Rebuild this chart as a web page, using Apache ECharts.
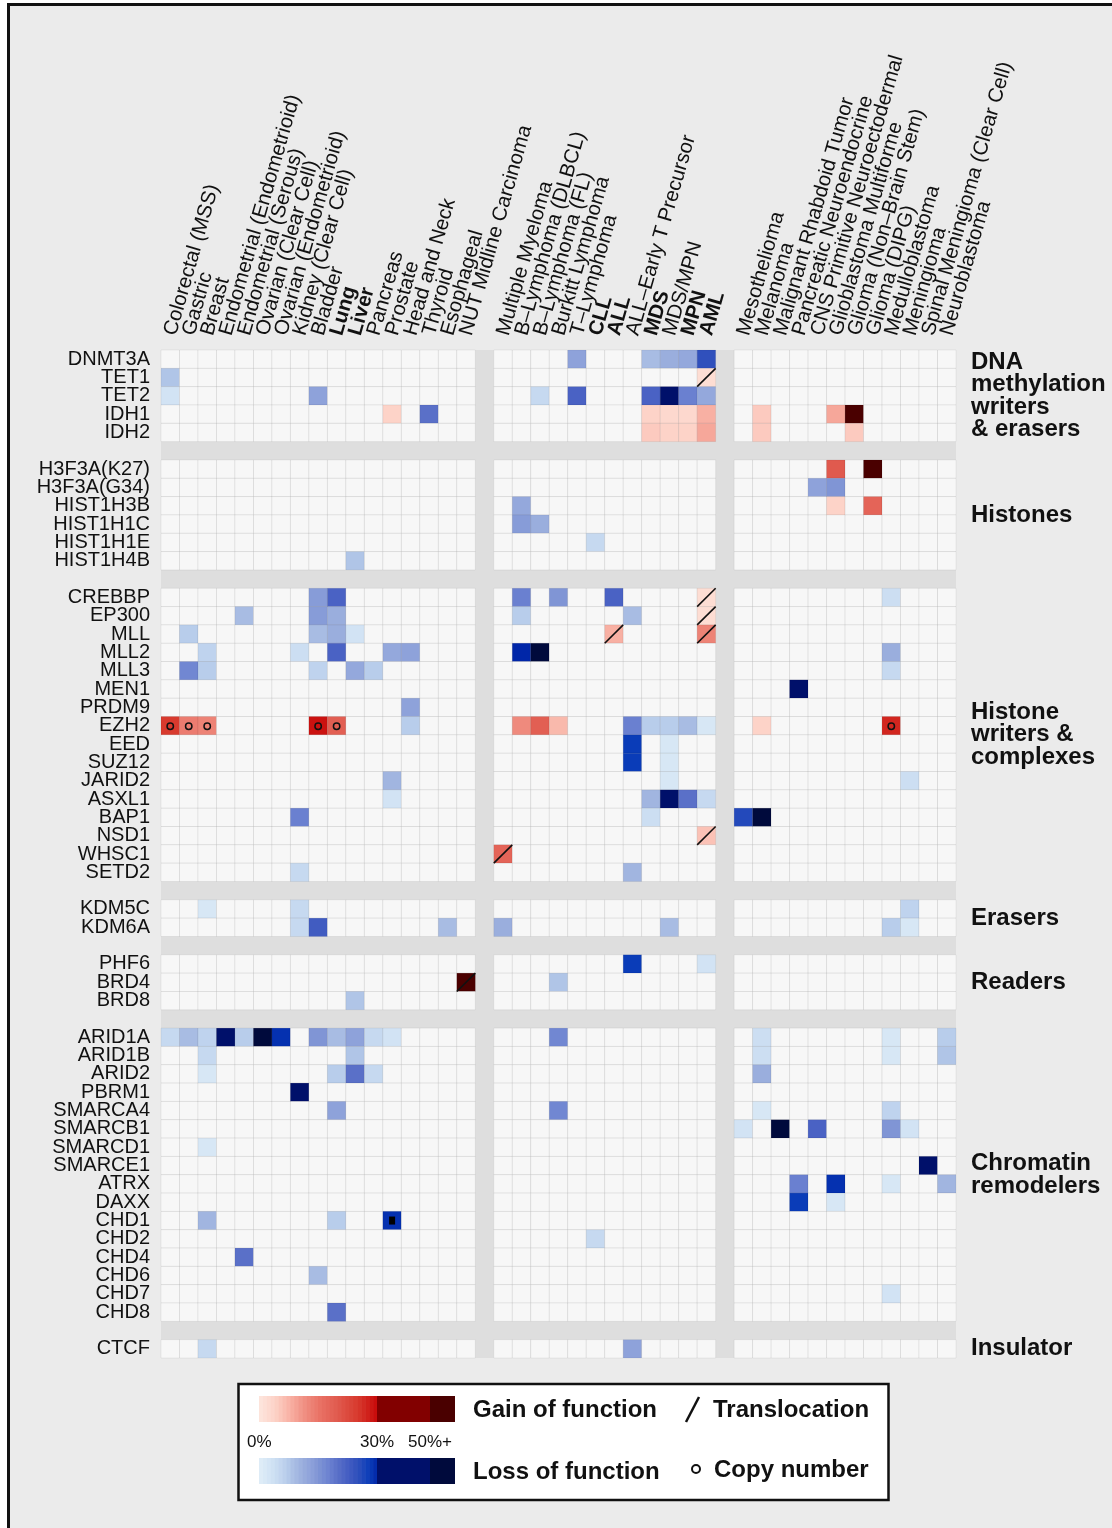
<!DOCTYPE html>
<html><head><meta charset="utf-8">
<script src="https://cdn.jsdelivr.net/npm/echarts@6/dist/echarts.min.js"></script>
<style>
html,body{margin:0;padding:0;background:#fff;overflow:hidden;width:1112px;height:1528px;}
#frame{position:absolute;left:7px;top:3px;width:1130px;height:1545px;border:3px solid #111;background:#ebebeb;box-sizing:border-box;}
#chart{position:absolute;left:0;top:0;width:1112px;height:1528px;}
</style></head><body>
<div id="frame"></div><div id="chart"></div>
<script>
// ---------- categories ----------
const solidTumors = ['Colorectal (MSS)','Gastric','Breast','Endometrial (Endometrioid)','Endometrial (Serous)','Ovarian (Clear Cell)','Ovarian (Endometrioid)','Kidney (Clear Cell)','Bladder','Lung','Liver','Pancreas','Prostate','Head and Neck','Thyroid','Esophageal','NUT Midline Carcinoma'];
const hemeCancers = ['Multiple Myeloma','B–Lymphoma (DLBCL)','B–Lymphoma (FL)','Burkitt Lymphoma','T–Lymphoma','CLL','ALL','ALL–Early T Precursor','MDS','MDS/MPN','MPN','AML'];
const otherCancers = ['Mesothelioma','Melanoma','Malignant Rhabdoid Tumor','Pancreatic Neuroendocrine','CNS Primitive Neuroectodermal','Glioblastoma Multiforme','Glioma (Non–Brain Stem)','Glioma (DIPG)','Medulloblastoma','Meningioma','Spinal Meningioma (Clear Cell)','Neuroblastoma'];
const boldCancers = ['Lung','Liver','CLL','ALL','MDS','MPN','AML'];

const dnaMethylationGenes = ['DNMT3A','TET1','TET2','IDH1','IDH2'];
const histoneGenes = ['H3F3A(K27)','H3F3A(G34)','HIST1H3B','HIST1H1C','HIST1H1E','HIST1H4B'];
const histoneWriterGenes = ['CREBBP','EP300','MLL','MLL2','MLL3','MEN1','PRDM9','EZH2','EED','SUZ12','JARID2','ASXL1','BAP1','NSD1','WHSC1','SETD2'];
const eraserGenes = ['KDM5C','KDM6A'];
const readerGenes = ['PHF6','BRD4','BRD8'];
const remodelerGenes = ['ARID1A','ARID1B','ARID2','PBRM1','SMARCA4','SMARCB1','SMARCD1','SMARCE1','ATRX','DAXX','CHD1','CHD2','CHD4','CHD6','CHD7','CHD8'];
const insulatorGenes = ['CTCF'];
const groupLabels = ['DNA\nmethylation\nwriters\n& erasers','Histones','Histone\nwriters &\ncomplexes','Erasers','Readers','Chromatin\nremodelers','Insulator'];

// ---------- values: [gene, cancer, % of cases]; >0 gain of function, <0 loss of function ----------
const dnaMethylationCells = [
 ['TET1','Colorectal (MSS)',-8],['TET2','Colorectal (MSS)',-3],['TET2','Bladder',-13],
 ['IDH1','Prostate',4],['IDH1','Thyroid',-20],
 ['DNMT3A','T–Lymphoma',-13],['DNMT3A','MDS',-9],['DNMT3A','MDS/MPN',-11],['DNMT3A','MPN',-12],['DNMT3A','AML',-25],
 ['TET1','AML',2],
 ['TET2','B–Lymphoma (FL)',-5],['TET2','T–Lymphoma',-22],['TET2','MDS',-22],['TET2','MDS/MPN',-40],['TET2','MPN',-18],['TET2','AML',-12],
 ['IDH1','MDS',4],['IDH1','MDS/MPN',3],['IDH1','MPN',3],['IDH1','AML',8],
 ['IDH2','MDS',5],['IDH2','MDS/MPN',4],['IDH2','MPN',4],['IDH2','AML',9],
 ['IDH1','Melanoma',5],['IDH2','Melanoma',5],
 ['IDH1','Glioblastoma Multiforme',9],['IDH1','Glioma (Non–Brain Stem)',60],['IDH2','Glioma (Non–Brain Stem)',5]
];
const histoneCells = [
 ['H3F3A(K27)','Glioblastoma Multiforme',20],['H3F3A(K27)','Glioma (DIPG)',60],
 ['H3F3A(G34)','CNS Primitive Neuroectodermal',-13],['H3F3A(G34)','Glioblastoma Multiforme',-15],
 ['HIST1H3B','Glioblastoma Multiforme',4],['HIST1H3B','Glioma (DIPG)',18],
 ['HIST1H3B','B–Lymphoma (DLBCL)',-12],['HIST1H1C','B–Lymphoma (DLBCL)',-14],['HIST1H1C','B–Lymphoma (FL)',-11],
 ['HIST1H1E','CLL',-5],['HIST1H4B','Liver',-8]
];
const histoneWriterCells = [
 ['CREBBP','Bladder',-14],['CREBBP','Lung',-22],
 ['EP300','Endometrial (Serous)',-9],['EP300','Bladder',-14],['EP300','Lung',-11],
 ['MLL','Gastric',-7],['MLL','Bladder',-9],['MLL','Lung',-11],['MLL','Liver',-3],
 ['MLL2','Breast',-6],['MLL2','Kidney (Clear Cell)',-4],['MLL2','Lung',-22],['MLL2','Prostate',-12],['MLL2','Head and Neck',-13],
 ['MLL3','Gastric',-17],['MLL3','Breast',-7],['MLL3','Bladder',-6],['MLL3','Liver',-12],['MLL3','Pancreas',-7],
 ['PRDM9','Head and Neck',-13],
 ['EZH2','Colorectal (MSS)',25],['EZH2','Gastric',14],['EZH2','Breast',13],['EZH2','Bladder',29],['EZH2','Lung',19],['EZH2','Head and Neck',-7],
 ['JARID2','Prostate',-10],['ASXL1','Prostate',-3],['BAP1','Kidney (Clear Cell)',-18],['SETD2','Kidney (Clear Cell)',-5],
 ['CREBBP','B–Lymphoma (DLBCL)',-18],['CREBBP','Burkitt Lymphoma',-15],['CREBBP','ALL',-22],['CREBBP','AML',2],
 ['EP300','B–Lymphoma (DLBCL)',-7],['EP300','ALL–Early T Precursor',-9],['EP300','AML',2],
 ['MLL','ALL',8],['MLL','AML',13],
 ['MLL2','B–Lymphoma (DLBCL)',-30],['MLL2','B–Lymphoma (FL)',-60],
 ['EZH2','B–Lymphoma (DLBCL)',12],['EZH2','B–Lymphoma (FL)',19],['EZH2','Burkitt Lymphoma',7],['EZH2','ALL–Early T Precursor',-18],
 ['EZH2','MDS',-7],['EZH2','MDS/MPN',-7],['EZH2','MPN',-9],['EZH2','AML',-2],
 ['EED','ALL–Early T Precursor',-28],['EED','MDS/MPN',-2],['SUZ12','ALL–Early T Precursor',-28],['SUZ12','MDS/MPN',-2],
 ['JARID2','MDS/MPN',-2],
 ['ASXL1','MDS',-10],['ASXL1','MDS/MPN',-40],['ASXL1','MPN',-20],['ASXL1','AML',-5],
 ['BAP1','MDS',-4],['NSD1','AML',6],['WHSC1','Multiple Myeloma',18],['SETD2','ALL–Early T Precursor',-10],
 ['CREBBP','Medulloblastoma',-4],['MLL2','Medulloblastoma',-11],['MLL3','Medulloblastoma',-5],
 ['MEN1','Pancreatic Neuroendocrine',-40],['EZH2','Melanoma',4],['EZH2','Medulloblastoma',27],
 ['JARID2','Meningioma',-4],['BAP1','Mesothelioma',-26],['BAP1','Melanoma',-60]
];
const eraserCells = [
 ['KDM5C','Breast',-2],['KDM5C','Kidney (Clear Cell)',-5],['KDM5C','Meningioma',-6],
 ['KDM6A','Kidney (Clear Cell)',-5],['KDM6A','Bladder',-23],['KDM6A','Esophageal',-9],['KDM6A','Multiple Myeloma',-11],
 ['KDM6A','MDS/MPN',-9],['KDM6A','Medulloblastoma',-7],['KDM6A','Meningioma',-2]
];
const readerCells = [
 ['PHF6','ALL–Early T Precursor',-28],['PHF6','AML',-3],
 ['BRD4','NUT Midline Carcinoma',60],['BRD4','Burkitt Lymphoma',-8],['BRD8','Liver',-8]
];
const remodelerCells = [
 ['ARID1A','Colorectal (MSS)',-5],['ARID1A','Gastric',-9],['ARID1A','Breast',-6],['ARID1A','Endometrial (Endometrioid)',-40],
 ['ARID1A','Endometrial (Serous)',-7],['ARID1A','Ovarian (Clear Cell)',-60],['ARID1A','Ovarian (Endometrioid)',-29],
 ['ARID1A','Bladder',-15],['ARID1A','Lung',-9],['ARID1A','Liver',-13],['ARID1A','Pancreas',-5],['ARID1A','Prostate',-3],
 ['ARID1B','Breast',-5],['ARID1B','Liver',-8],
 ['ARID2','Breast',-2],['ARID2','Lung',-7],['ARID2','Liver',-20],['ARID2','Pancreas',-5],
 ['PBRM1','Kidney (Clear Cell)',-40],['SMARCA4','Lung',-13],['SMARCD1','Breast',-2],
 ['CHD1','Breast',-10],['CHD1','Lung',-7],['CHD1','Prostate',-29],
 ['CHD4','Endometrial (Serous)',-20],['CHD6','Bladder',-9],['CHD8','Lung',-20],
 ['ARID1A','Burkitt Lymphoma',-17],['SMARCA4','Burkitt Lymphoma',-17],['CHD2','CLL',-5],
 ['ARID1A','Melanoma',-4],['ARID1A','Medulloblastoma',-2],['ARID1A','Neuroblastoma',-7],
 ['ARID1B','Melanoma',-4],['ARID1B','Medulloblastoma',-2],['ARID1B','Neuroblastoma',-8],
 ['ARID2','Melanoma',-11],['SMARCA4','Melanoma',-2],['SMARCA4','Medulloblastoma',-6],
 ['SMARCB1','Mesothelioma',-3],['SMARCB1','Malignant Rhabdoid Tumor',-60],['SMARCB1','CNS Primitive Neuroectodermal',-22],
 ['SMARCB1','Medulloblastoma',-15],['SMARCB1','Meningioma',-3],
 ['SMARCE1','Spinal Meningioma (Clear Cell)',-40],
 ['ATRX','Pancreatic Neuroendocrine',-18],['ATRX','Glioblastoma Multiforme',-29],['ATRX','Medulloblastoma',-2],['ATRX','Neuroblastoma',-10],
 ['DAXX','Pancreatic Neuroendocrine',-28],['DAXX','Glioblastoma Multiforme',-2],['CHD7','Medulloblastoma',-3]
];
const insulatorCells = [['CTCF','Breast',-5],['CTCF','ALL–Early T Precursor',-13]];

const translocations = [['TET1','AML'],['CREBBP','AML'],['EP300','AML'],['MLL','ALL'],['MLL','AML'],['NSD1','AML'],['WHSC1','Multiple Myeloma'],['BRD4','NUT Midline Carcinoma']];
const copyNumber = [['EZH2','Colorectal (MSS)'],['EZH2','Gastric'],['EZH2','Breast'],['EZH2','Bladder'],['EZH2','Lung'],['EZH2','Medulloblastoma']];
const copyNumberSquare = [['CHD1','Prostate']];

// ---------- colours ----------
const gainStops = [[0,'#fde6de'],[4,'#fdd3c8'],[8,'#f8b0a3'],[12,'#ef8a7d'],[16,'#e86e62'],[20,'#e05a4e'],[25,'#d83a2e'],[30,'#c80808']];
const lossStops = [[0,'#e0eef8'],[3,'#d2e3f4'],[5,'#c6d9f0'],[7,'#b8cdeb'],[9,'#a8bce3'],[11,'#9aaedd'],[13,'#8ea2da'],[15,'#8095d5'],[18,'#6a80d0'],[20,'#5a70c8'],[22,'#4a62c4'],[25,'#3050bc'],[28,'#0a3cb8'],[30,'#0026a8']];
function hex(c){return [1,3,5].map(i=>parseInt(c.substr(i,2),16));}
function lerpStops(stops,p){
  for(let i=1;i<stops.length;i++){
    if(p<=stops[i][0]){
      const t=(p-stops[i-1][0])/(stops[i][0]-stops[i-1][0]);
      const a=hex(stops[i-1][1]), b=hex(stops[i][1]);
      return 'rgb('+a.map((v,k)=>Math.round(v+(b[k]-v)*t)).join(',')+')';
    }
  }
  return stops[stops.length-1][1];
}
function cellColor(v){
  if(!v) return '#f7f7f7';
  const a=Math.abs(v), gain=v>0;
  if(a>=50) return gain?'#4a0000':'#000a3c';
  if(a>30) return gain?'#820000':'#00106a';
  return lerpStops(gain?gainStops:lossStops,a);
}

// ---------- build ----------
const xCats=[...solidTumors,'__gapA',...hemeCancers,'__gapB',...otherCancers];
const geneGroupList=[dnaMethylationGenes,histoneGenes,histoneWriterGenes,eraserGenes,readerGenes,remodelerGenes,insulatorGenes];
const yCats=[];
geneGroupList.forEach((g,i)=>{ if(i>0) yCats.push('__gap'+i); yCats.push(...g); });
const allCells=[...dnaMethylationCells,...histoneCells,...histoneWriterCells,...eraserCells,...readerCells,...remodelerCells,...insulatorCells];
const valueMap={};
allCells.forEach(([g,c,v])=>{ valueMap[g+'|'+c]=v; });
const cellData=[];
xCats.forEach((c,xi)=>{ if(c.startsWith('__'))return; yCats.forEach((g,yi)=>{ if(g.startsWith('__'))return; cellData.push([xi,yi,valueMap[g+'|'+c]||0]); }); });
const toIdx=arr=>arr.map(([g,c])=>[xCats.indexOf(c),yCats.indexOf(g)]);

const FONT='"Liberation Sans", Arial, Helvetica, sans-serif';
const chart=echarts.init(document.getElementById('chart'),null,{renderer:'canvas'});
chart.setOption({
  backgroundColor:'transparent',
  animation:false,
  grid:{left:161,top:350,width:795,height:1008,show:true,backgroundColor:'#dedede',borderWidth:0,containLabel:false,outerBoundsMode:'none'},
  xAxis:{type:'category',data:xCats,position:'top',axisLine:{show:false},axisTick:{show:false},splitLine:{show:false},
    axisLabel:{interval:0,rotate:-74,margin:15,fontSize:20.5,fontFamily:FONT,color:'#111',
      formatter:v=>v.startsWith('__')?'':(boldCancers.includes(v)?'{b|'+v+'}':v),
      rich:{b:{fontWeight:'bold',fontSize:20.5,fontFamily:FONT,color:'#111'}}}},
  yAxis:{type:'category',data:yCats,inverse:true,axisLine:{show:false},axisTick:{show:false},splitLine:{show:false},
    axisLabel:{interval:0,margin:11,fontSize:20,fontFamily:FONT,color:'#111',formatter:v=>v.startsWith('__')?'':v}},
  series:[
    {type:'custom',name:'cells',data:cellData,encode:{x:0,y:1},
      renderItem:(p,api)=>{const c=api.coord([api.value(0),api.value(1)]);const s=api.size([1,1]);
        return {type:'rect',shape:{x:c[0]-s[0]/2,y:c[1]-s[1]/2,width:s[0],height:s[1]},style:{fill:cellColor(api.value(2)),stroke:'rgba(0,0,0,0.06)',lineWidth:1}};}},
    {type:'custom',name:'Translocation',data:toIdx(translocations),encode:{x:0,y:1},z:5,
      renderItem:(p,api)=>{const c=api.coord([api.value(0),api.value(1)]);const s=api.size([1,1]);
        return {type:'line',shape:{x1:c[0]-s[0]/2,y1:c[1]+s[1]/2,x2:c[0]+s[0]/2,y2:c[1]-s[1]/2},style:{stroke:'#111',lineWidth:1.6}};}},
    {type:'custom',name:'Copy number',data:toIdx(copyNumber),encode:{x:0,y:1},z:5,
      renderItem:(p,api)=>{const c=api.coord([api.value(0),api.value(1)]);
        return {type:'circle',shape:{cx:c[0],cy:c[1]+0.5,r:3.2},style:{fill:'none',stroke:'#111',lineWidth:1.5}};}},
    {type:'custom',name:'Copy number square',data:toIdx(copyNumberSquare),encode:{x:0,y:1},z:5,
      renderItem:(p,api)=>{const c=api.coord([api.value(0),api.value(1)]);
        return {type:'rect',shape:{x:c[0]-3,y:c[1]-4,width:6,height:8},style:{fill:'#000'}};}}
  ]
});

// ---------- side labels and legend ----------
const BOLD='bold 24px '+FONT;
const graphics=[];
geneGroupList.forEach((g,i)=>{
  const a=chart.convertToPixel({yAxisIndex:0},g[0]);
  const b=chart.convertToPixel({yAxisIndex:0},g[g.length-1]);
  graphics.push({type:'text',id:'grp'+i,x:971,y:(a+b)/2,z:10,
    style:{text:groupLabels[i],font:BOLD,fill:'#111',lineHeight:22.6,align:'left',verticalAlign:'middle',textAlign:'left',textVerticalAlign:'middle'}});
});
// legend box
graphics.push({type:'rect',id:'lgbox',z:10,shape:{x:238.5,y:1384,width:650,height:116},style:{fill:'#fff',stroke:'#111',lineWidth:2.5}});
const rampX0=259, rampX30=377, rampX50=430, rampX1=455;
const nSteps=30, stepW=(rampX30-rampX0)/nSteps;
[[1396,1],[1458,-1]].forEach(([y0,sign],k)=>{
  for(let i=0;i<nSteps;i++){
    graphics.push({type:'rect',id:'ramp'+k+'_'+i,z:11,shape:{x:rampX0+i*stepW,y:y0,width:stepW+0.6,height:26},style:{fill:cellColor(sign*(i+0.5))}});
  }
  graphics.push({type:'rect',id:'rampA'+k,z:11,shape:{x:rampX30,y:y0,width:rampX50-rampX30,height:26},style:{fill:cellColor(sign*40)}});
  graphics.push({type:'rect',id:'rampB'+k,z:11,shape:{x:rampX50,y:y0,width:rampX1-rampX50,height:26},style:{fill:cellColor(sign*60)}});
});
const legText=(id,t,x,y,font)=>graphics.push({type:'text',id,x,y,z:12,style:{text:t,font,fill:'#111',align:'left',verticalAlign:'middle',textAlign:'left',textVerticalAlign:'middle'}});
legText('lg1','Gain of function',473,1410,BOLD);
legText('lg2','Loss of function',473,1472,BOLD);
legText('lg3','Translocation',713,1410,BOLD);
legText('lg4','Copy number',714,1470,BOLD);
legText('lg5','0%',247,1442,'17px '+FONT);
legText('lg6','30%',360,1442,'17px '+FONT);
legText('lg7','50%+',408,1442,'17px '+FONT);
graphics.push({type:'line',id:'lgslash',z:12,shape:{x1:686,y1:1422,x2:699,y2:1397},style:{stroke:'#111',lineWidth:2.5}});
graphics.push({type:'circle',id:'lgcirc',z:12,shape:{cx:696,cy:1469,r:4},style:{fill:'none',stroke:'#111',lineWidth:2}});
chart.setOption({graphic:graphics});
</script></body></html>
